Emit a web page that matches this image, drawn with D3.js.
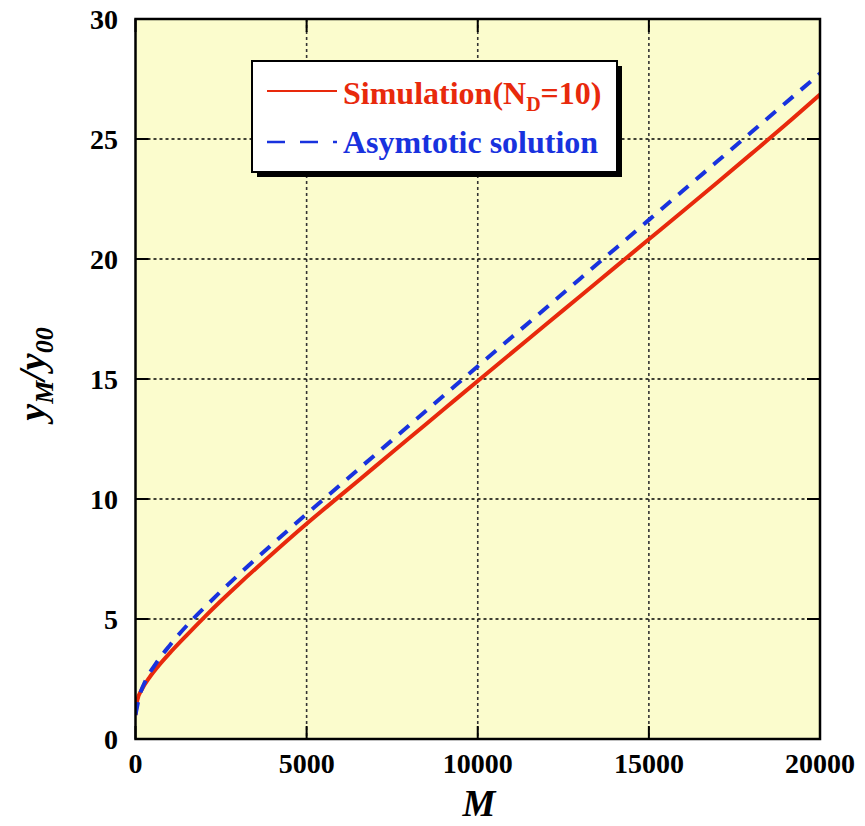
<!DOCTYPE html>
<html>
<head>
<meta charset="utf-8">
<script src="https://cdn.jsdelivr.net/npm/d3@7"></script>
<style>
  html, body { margin: 0; padding: 0; background: #ffffff; }
</style>
</head>
<body>
<svg id="chart" width="865" height="826" font-family="Liberation Serif"></svg>
<script>
// Growth of y_M / y_00 with the number of steps M
const simM = [0, 50, 200, 400, 700, 1000, 1500, 2000, 2500, 3000, 4000, 5000, 6000, 7000, 8000, 9000, 10000, 11000, 12000, 13000, 14000, 15000, 16000, 17000, 18000, 19000, 20000];
const simY = [1.0, 1.6, 2.1, 2.55, 3.1, 3.58, 4.33, 5.06, 5.76, 6.43, 7.72, 8.97, 10.16, 11.35, 12.54, 13.73, 14.92, 16.1, 17.28, 18.46, 19.64, 20.82, 22.0, 23.19, 24.39, 25.6, 26.85];

const asyM = [0, 100, 300, 600, 1000, 1700, 2000, 2500, 3000, 4000, 5000, 6000, 7000, 8000, 9000, 10000, 11000, 12000, 13000, 14000, 15000, 16000, 17000, 18000, 19000, 20000];
const asyY = [1.0, 1.7, 2.45, 3.15, 3.9, 5.03, 5.46, 6.16, 6.83, 8.12, 9.38, 10.61, 11.84, 13.07, 14.3, 15.53, 16.75, 17.97, 19.19, 20.41, 21.63, 22.85, 24.07, 25.29, 26.51, 27.73];

const xTicks = [0, 5000, 10000, 15000, 20000];
const yTicks = [0, 5, 10, 15, 20, 25, 30];

const seriesNames = ["Simulation(N", "D", "=10)"];
const asyName = "Asymtotic solution";

const serif = "Liberation Serif";
const svg = d3.select("#chart");
const L = 135.5, R = 820, T = 19, B = 739;

const x = d3.scaleLinear().domain([0, 20000]).range([L, R]);
const y = d3.scaleLinear().domain([0, 30]).range([B, T]);

const red = "#e8290c", blue = "#1832de";

// plot background
svg.append("rect").attr("x", L).attr("y", T).attr("width", R - L).attr("height", B - T)
  .attr("fill", "#fbfccd");

// dotted grid
const grid = svg.append("g");
grid.selectAll("line.gx").data(xTicks.slice(1, -1)).join("line")
  .attr("x1", d => x(d)).attr("x2", d => x(d)).attr("y1", T).attr("y2", B)
  .attr("stroke", "#333").attr("stroke-width", 1.6).attr("stroke-dasharray", "3,3");
grid.selectAll("line.gy").data(yTicks.slice(1, -1)).join("line")
  .attr("y1", d => y(d)).attr("y2", d => y(d)).attr("x1", L).attr("x2", R)
  .attr("stroke", "#000").attr("stroke-width", 1.6).attr("stroke-dasharray", "3,3");

// inward ticks on all four sides
const tk = 13;
const ticks = svg.append("g").attr("stroke", "#000").attr("stroke-width", 2);
yTicks.forEach(v => {
  ticks.append("line").attr("x1", L).attr("x2", L + tk).attr("y1", y(v)).attr("y2", y(v));
  ticks.append("line").attr("x1", R - tk).attr("x2", R).attr("y1", y(v)).attr("y2", y(v));
});
xTicks.forEach(v => {
  ticks.append("line").attr("x1", x(v)).attr("x2", x(v)).attr("y1", B).attr("y2", B - tk);
  ticks.append("line").attr("x1", x(v)).attr("x2", x(v)).attr("y1", T).attr("y2", T + tk);
});

// curves
svg.append("clipPath").attr("id", "plotClip").append("rect")
  .attr("x", L).attr("y", T).attr("width", R - L).attr("height", B - T);

const line = d3.line().x(d => x(d[0])).y(d => y(d[1])).curve(d3.curveMonotoneX);
const simData = simM.map((m, i) => [m, simY[i]]);
const asyData = asyM.map((m, i) => [m, asyY[i]]);

const curves = svg.append("g").attr("clip-path", "url(#plotClip)");
curves.append("path").datum(simData).attr("d", line)
  .attr("fill", "none").attr("stroke", red).attr("stroke-width", 4);
curves.append("path").datum(asyData).attr("d", line)
  .attr("fill", "none").attr("stroke", blue).attr("stroke-width", 4)
  .attr("stroke-dasharray", "13,10");

// frame
svg.append("rect").attr("x", L).attr("y", T).attr("width", R - L).attr("height", B - T)
  .attr("fill", "none").attr("stroke", "#000").attr("stroke-width", 2.5);

// tick labels
svg.selectAll("text.xt").data(xTicks).join("text")
  .attr("font-family", serif)
  .attr("x", d => x(d)).attr("y", 773).attr("text-anchor", "middle")
  .attr("font-size", 28).attr("font-weight", "bold").attr("fill", "#000")
  .text(d => d);
svg.selectAll("text.yt").data(yTicks).join("text")
  .attr("font-family", serif)
  .attr("x", 118).attr("y", d => y(d) + 10).attr("text-anchor", "end")
  .attr("font-size", 28).attr("font-weight", "bold").attr("fill", "#000")
  .text(d => d);

// axis titles
svg.append("text").attr("font-family", serif)
  .attr("x", 479).attr("y", 816).attr("text-anchor", "middle")
  .attr("font-size", 37).attr("font-weight", "bold").attr("font-style", "italic")
  .text("M");

const yl = svg.append("text").attr("font-family", serif)
  .attr("transform", "translate(45,374) rotate(-90)")
  .attr("text-anchor", "middle")
  .attr("font-size", 38).attr("font-weight", "bold").attr("font-style", "italic");
yl.append("tspan").text("y");
yl.append("tspan").attr("font-size", 26).attr("dy", 8).text("M");
yl.append("tspan").attr("dy", -8).text("/y");
yl.append("tspan").attr("font-size", 26).attr("dy", 8).text("00");

// legend
const lg = svg.append("g");
const lx = 252, ly = 61, lw = 365, lh = 111;
lg.append("rect").attr("x", lx + 5).attr("y", ly + 5).attr("width", lw).attr("height", lh).attr("fill", "#000");
lg.append("rect").attr("x", lx).attr("y", ly).attr("width", lw).attr("height", lh)
  .attr("fill", "#fff").attr("stroke", "#000").attr("stroke-width", 2);

lg.append("line").attr("x1", 267).attr("x2", 337).attr("y1", 91).attr("y2", 91)
  .attr("stroke", red).attr("stroke-width", 2);
const t1 = lg.append("text").attr("font-family", serif).attr("x", 343).attr("y", 104)
  .attr("font-size", 32).attr("font-weight", "bold").attr("fill", red);
t1.append("tspan").text(seriesNames[0]);
t1.append("tspan").attr("font-size", 20).attr("dy", 7).text(seriesNames[1]);
t1.append("tspan").attr("dy", -7).text(seriesNames[2]);

lg.append("line").attr("x1", 267).attr("x2", 337).attr("y1", 142).attr("y2", 142)
  .attr("stroke", blue).attr("stroke-width", 2.5).attr("stroke-dasharray", "18,15");
lg.append("text").attr("font-family", serif).attr("x", 343).attr("y", 153)
  .attr("font-size", 32).attr("font-weight", "bold").attr("fill", blue)
  .text(asyName);
</script>
</body>
</html>
